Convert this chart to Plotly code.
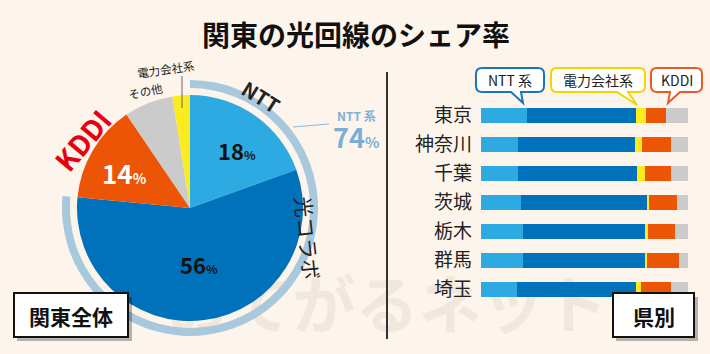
import plotly.graph_objects as go

W, H = 710, 354
FONT = "Noto Sans CJK JP"

# ---- data ----
pie_labels = ["NTT", "光コラボ", "KDDI", "その他", "電力会社系"]
pie_values = [19.5, 57, 14, 7, 2.5]          # slice sizes as drawn
pie_printed = ["18", "56", "14"]             # percentages printed on the slices
ntt_printed = "74"

prefs = ["東京", "神奈川", "千葉", "茨城", "栃木", "群馬", "埼玉"]
ntt = [22, 18, 18, 19.5, 20.5, 20.5, 17.5]
hikari = [53, 56.5, 57.5, 60.5, 58.5, 58.5, 57.5]
denryoku = [4.5, 3.5, 3.5, 1, 1.5, 1, 2.5]
kddi = [10, 14, 13, 13.5, 13, 15.5, 14.5]
other = [10.5, 8, 8, 5.5, 6.5, 4.5, 8]

watermark = "おてがるネット"

C_LB = "#2daae1"
C_DB = "#0071bb"
C_OR = "#eb5505"
C_GR = "#cbcbcb"
C_YE = "#fcec1f"
BG = "#fdf5ec"


def X(px):
    return px / W


def Y(py):
    return 1 - py / H


fig = go.Figure()

# watermark (background layer, on a full-page cartesian subplot)
fig.add_trace(go.Scatter(
    x=[387], y=[H - 312], mode="text", text=[f"<b>{watermark}</b>"],
    textfont=dict(size=63, color="#f1e7dc", family=FONT), hoverinfo="skip",
    showlegend=False, xaxis="x", yaxis="y", cliponaxis=False,
))

# ring around NTT share
cx, cy, r = 190, 208, 113
ro, ri = 128, 120
ntt_share = pie_values[0] + pie_values[1]
fig.add_trace(go.Pie(
    values=[ntt_share, 100 - ntt_share], sort=False, direction="clockwise", rotation=0,
    hole=ri / ro, marker=dict(colors=["#a7c8dd", "rgba(0,0,0,0)"], line=dict(width=0)),
    textinfo="none", hoverinfo="skip", showlegend=False,
    domain=dict(x=[X(cx - ro), X(cx + ro)], y=[Y(cy + ro), Y(cy - ro)]),
))
fig.add_trace(go.Pie(
    labels=pie_labels, values=pie_values, sort=False, direction="clockwise", rotation=0,
    marker=dict(colors=[C_LB, C_DB, C_OR, C_GR, C_YE], line=dict(width=0)),
    textinfo="none", showlegend=False,
    domain=dict(x=[X(cx - r), X(cx + r)], y=[Y(cy + r), Y(cy - r)]),
))

# stacked bars
series = [(ntt, C_LB, "NTT"), (hikari, C_DB, "光コラボ"), (denryoku, C_YE, "電力会社系"),
          (kddi, C_OR, "KDDI"), (other, C_GR, "その他")]
for vals, col, name in series:
    fig.add_trace(go.Bar(
        y=prefs, x=vals, orientation="h", name=name, marker=dict(color=col, line=dict(width=0)),
        xaxis="x2", yaxis="y2", showlegend=False,
    ))

bar_top, bar_bot = 101, 304
fig.update_layout(
    width=W, height=H, margin=dict(l=0, r=0, t=0, b=0),
    paper_bgcolor=BG, plot_bgcolor="rgba(0,0,0,0)",
    barmode="stack", bargap=0.46,
    font=dict(family=FONT, color="#222"),
    xaxis=dict(domain=[0, 1], range=[0, W], visible=False, fixedrange=True),
    yaxis=dict(domain=[0, 1], range=[0, H], visible=False, fixedrange=True),
    xaxis2=dict(domain=[X(481), X(688)], range=[0, 100], visible=False, fixedrange=True,
                anchor="y2"),
    yaxis2=dict(domain=[Y(bar_bot), Y(bar_top)], autorange="reversed", showgrid=False,
                zeroline=False, showline=False, ticks="", ticklabelstandoff=8, anchor="x2",
                tickfont=dict(size=19, family=FONT, color="#222")),
)

anns = []
shapes = []


def ann(px, py, text, size, color="#222", angle=0, xanchor="center", **kw):
    anns.append(dict(x=X(px), y=Y(py), xref="paper", yref="paper", text=text, showarrow=False,
                     font=dict(size=size, color=color, family=FONT), textangle=angle,
                     xanchor=xanchor, yanchor="middle", **kw))


# title
ann(356, 34, "<b>関東の光回線のシェア率</b>", 28, color="#111")


def pct(v, small):
    return f"<b>{v}<span style='font-size:{small}px'>%</span></b>"


ann(237, 150, pct(pie_printed[0], 12), 22, color="#111")
ann(199, 264, pct(pie_printed[1], 12), 22, color="#111")
ann(125, 172, pct(pie_printed[2], 14), 26, color="#fff")

# outer labels
ann(261, 97, "<b>NTT</b>", 20, color="#222", angle=32)
ann(308, 238, "光コラボ", 21, color="#222", angle=84)
ann(82, 140, "<b>KDDI</b>", 28, color="#e60012", angle=-50)
ann(166, 69, "電力会社系", 11.5, color="#222", angle=-8)
ann(145, 91, "その他", 11.5, color="#222", angle=-12)
ann(356, 116, "<b>NTT 系</b>", 12, color="#7fb2d7")
ann(356, 137, pct(ntt_printed, 15), 27, color="#7aaed6")

shapes.append(dict(type="line", xref="paper", yref="paper", x0=X(182), y0=Y(76), x1=X(182), y1=Y(108),
                   line=dict(color="#666", width=1)))
shapes.append(dict(type="line", xref="paper", yref="paper", x0=X(293), y0=Y(127), x1=X(329), y1=Y(124),
                   line=dict(color="#8db9db", width=1.2)))

# divider
shapes.append(dict(type="line", xref="paper", yref="paper", x0=X(387), y0=Y(72), x1=X(387), y1=Y(339),
                   line=dict(color="#333", width=2)))


def rect_box(x0, y0, x1, y1, text):
    shapes.append(dict(type="rect", xref="paper", yref="paper", x0=X(x0 + 3), y0=Y(y0 + 4),
                       x1=X(x1 + 4), y1=Y(y1 + 4), fillcolor="rgba(0,0,0,0.28)", line=dict(width=0),
                       layer="above"))
    shapes.append(dict(type="rect", xref="paper", yref="paper", x0=X(x0), y0=Y(y0),
                       x1=X(x1), y1=Y(y1), fillcolor="#fff", line=dict(color="#111", width=2),
                       layer="above"))
    ann((x0 + x1) / 2, (y0 + y1) / 2 + 1, f"<b>{text}</b>", 21, color="#111")


rect_box(14, 293, 128, 337, "関東全体")
rect_box(613, 293, 694, 337, "県別")


def P(px, py):
    return f"{X(px):.5f},{Y(py):.5f}"


def bubble(x0, y0, x1, y1, rr, bx0, bx1, tx, ty, color, text):
    path = (f"M{P(x0 + rr, y0)} L{P(x1 - rr, y0)} Q{P(x1, y0)} {P(x1, y0 + rr)} "
            f"L{P(x1, y1 - rr)} Q{P(x1, y1)} {P(x1 - rr, y1)} L{P(bx1, y1)} L{P(tx, ty)} "
            f"L{P(bx0, y1)} L{P(x0 + rr, y1)} Q{P(x0, y1)} {P(x0, y1 - rr)} L{P(x0, y0 + rr)} "
            f"Q{P(x0, y0)} {P(x0 + rr, y0)} Z")
    shapes.append(dict(type="path", xref="paper", yref="paper", path=path, fillcolor="#fff",
                       line=dict(color=color, width=2), layer="above"))
    ann((x0 + x1) / 2, (y0 + y1) / 2, text, 14, color="#222")


bubble(476, 68, 544, 92, 6, 511, 521, 523, 103, "#1b75bc", "NTT 系")
bubble(551, 68, 645, 92, 6, 617, 628, 637, 105, "#f2d600", "電力会社系")
bubble(651, 68, 702, 92, 6, 670, 680, 668, 103, "#eb5a25", "KDDI")

fig.update_layout(annotations=anns, shapes=shapes)
fig.write_html("out.html")
